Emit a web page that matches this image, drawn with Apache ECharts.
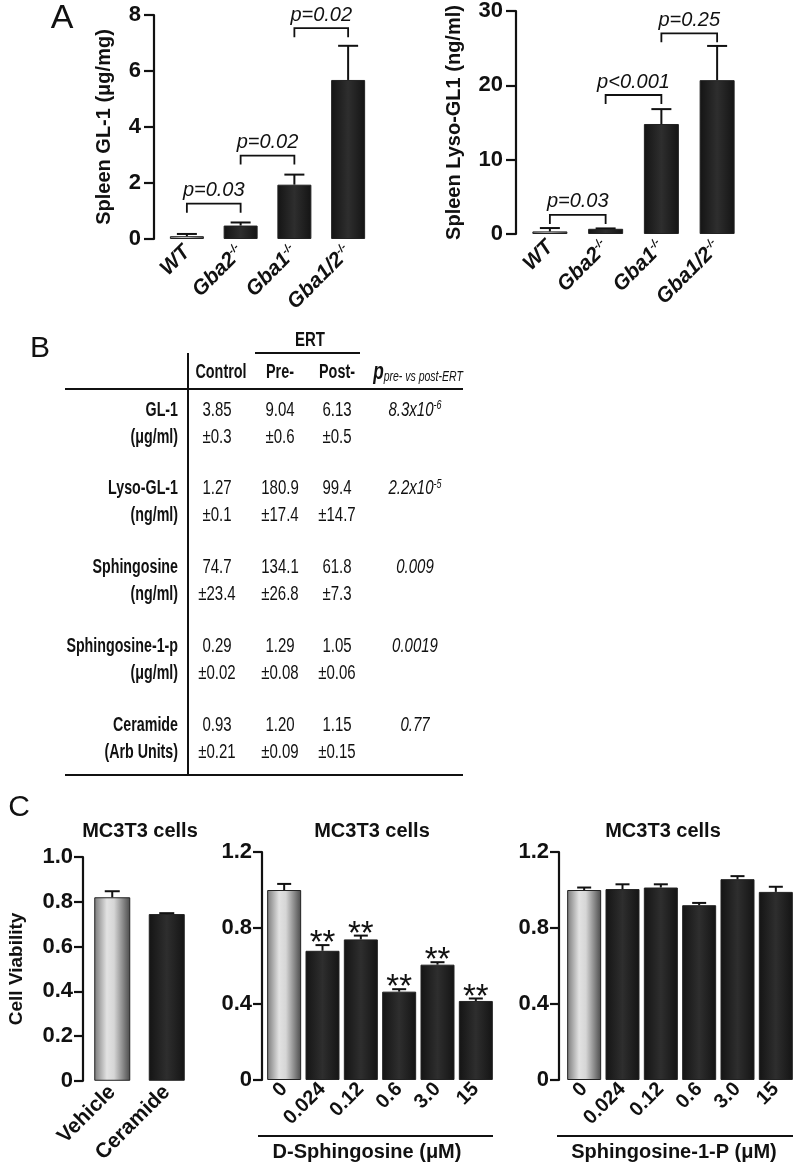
<!DOCTYPE html>
<html><head><meta charset="utf-8">
<script src="https://cdn.jsdelivr.net/npm/echarts@6/dist/echarts.min.js"></script>
<style>html,body{margin:0;padding:0;background:#fff}#c{width:797px;height:1166px}</style>
</head><body><div id="c"></div>
<script>
// ---------- Panel A data ----------
const genotypes = ['WT', 'Gba2', 'Gba1', 'Gba1/2'];
const genotypeSup = ['', '-/-', '-/-', '-/-'];
const gl1Mean = [0.1, 0.48, 1.94, 5.68];
const gl1Err = [0.08, 0.11, 0.36, 1.22];
const gl1Brackets = [
  { from: 0, to: 1, y: 1.26, label: 'p=0.03' },
  { from: 1, to: 2, y: 2.98, label: 'p=0.02' },
  { from: 2, to: 3, y: 7.53, label: 'p=0.02' }
];
const lysoMean = [0.35, 0.7, 14.8, 20.7];
const lysoErr = [0.45, 0.05, 2.0, 4.6];
const lysoBrackets = [
  { from: 0, to: 1, y: 2.57, label: 'p=0.03' },
  { from: 1, to: 2, y: 18.7, label: 'p<0.001' },
  { from: 2, to: 3, y: 27.0, label: 'p=0.25' }
];
const gl1Ticks = [0, 8, 2];
const lysoTicks = [0, 30, 10];

// ---------- Panel B data ----------
const tableHeaders = ['Control', 'Pre-', 'Post-'];
const tableRows = ['GL-1', 'Lyso-GL-1', 'Sphingosine', 'Sphingosine-1-p', 'Ceramide'];
const tableUnits = ['(μg/ml)', '(ng/ml)', '(ng/ml)', '(μg/ml)', '(Arb Units)'];
const controlMean = ['3.85', '1.27', '74.7', '0.29', '0.93'];
const controlSD = ['±0.3', '±0.1', '±23.4', '±0.02', '±0.21'];
const preMean = ['9.04', '180.9', '134.1', '1.29', '1.20'];
const preSD = ['±0.6', '±17.4', '±26.8', '±0.08', '±0.09'];
const postMean = ['6.13', '99.4', '61.8', '1.05', '1.15'];
const postSD = ['±0.5', '±14.7', '±7.3', '±0.06', '±0.15'];
const pBase = ['8.3x10', '2.2x10', '0.009', '0.0019', '0.77'];
const pExp = ['-6', '-5', '', '', ''];

// ---------- Panel C data ----------
const treatCats = ['Vehicle', 'Ceramide'];
const treatMean = [0.82, 0.745];
const treatErr = [0.027, 0.004];
const doseCats = ['0', '0.024', '0.12', '0.6', '3.0', '15'];
const sphMean = [1.0, 0.68, 0.74, 0.465, 0.607, 0.416];
const sphErr = [0.032, 0.03, 0.02, 0.013, 0.013, 0.013];
const sphStars = ['', '**', '**', '**', '**', '**'];
const s1pMean = [1.0, 1.005, 1.013, 0.92, 1.057, 0.99];
const s1pErr = [0.013, 0.025, 0.017, 0.012, 0.016, 0.027];
const treatTicks = [0, 1.0, 0.2];
const doseTicks = [0, 1.2, 0.4];

// ---------- styling helpers ----------
const FONT = '"Liberation Sans", Arial, Helvetica, sans-serif';
const INK = '#111';
const NX = 0.75; // horizontal squeeze for the condensed table typeface

function grayGrad() {
  return { type: 'linear', x: 0, y: 0, x2: 1, y2: 0, colorStops: [
    { offset: 0, color: '#7a7a7a' }, { offset: 0.35, color: '#e2e2e2' },
    { offset: 0.55, color: '#d6d6d6' }, { offset: 1, color: '#4a4a4a' }] };
}
function darkGrad() {
  return { type: 'linear', x: 0, y: 0, x2: 1, y2: 0, colorStops: [
    { offset: 0, color: '#141414' }, { offset: 0.5, color: '#2e2e2e' }, { offset: 1, color: '#141414' }] };
}

function barSeries(g, means, w) {
  return {
    type: 'bar', xAxisIndex: g, yAxisIndex: g, barWidth: w, z: 2,
    data: means.map((m, i) => ({ value: m, itemStyle: { color: i === 0 ? grayGrad() : darkGrad() } })),
    itemStyle: { borderColor: '#222', borderWidth: 1 }
  };
}

function errorSeries(g, means, errs, capW, lw, stars) {
  return {
    type: 'custom', xAxisIndex: g, yAxisIndex: g, z: 5, clip: false,
    data: means.map((m, i) => [i, m]),
    encode: { x: 0, y: 1 },
    renderItem(params, api) {
      const i = params.dataIndex;
      const m = api.value(1);
      const p0 = api.coord([i, m]);
      const p1 = api.coord([i, m + errs[i]]);
      const ch = [
        { type: 'line', shape: { x1: p0[0], y1: p0[1], x2: p1[0], y2: p1[1] }, style: { stroke: INK, lineWidth: lw } },
        { type: 'line', shape: { x1: p1[0] - capW / 2, y1: p1[1], x2: p1[0] + capW / 2, y2: p1[1] }, style: { stroke: INK, lineWidth: lw } }
      ];
      if (stars && stars[i]) {
        ch.push({ type: 'text', style: { text: stars[i], x: p1[0], y: p1[1] - 1,
          textAlign: 'center', align: 'center', textVerticalAlign: 'middle', verticalAlign: 'middle',
          font: '33px ' + FONT, fill: INK } });
      }
      return { type: 'group', children: ch };
    }
  };
}

function bracketSeries(g, brackets) {
  return {
    type: 'custom', xAxisIndex: g, yAxisIndex: g, z: 6, clip: false,
    data: brackets.map(b => [b.from, b.y]),
    encode: { x: 0, y: 1 },
    renderItem(params, api) {
      const b = brackets[params.dataIndex];
      const a = api.coord([b.from, b.y]);
      const c = api.coord([b.to, b.y]);
      const leg = 9;
      return { type: 'group', children: [
        { type: 'polyline', shape: { points: [[a[0], a[1] + leg], [a[0], a[1]], [c[0], c[1]], [c[0], c[1] + leg]] },
          style: { stroke: INK, lineWidth: 1.8, fill: null } },
        { type: 'text', style: { text: b.label, x: (a[0] + c[0]) / 2, y: a[1] - 3,
          textAlign: 'center', align: 'center', textVerticalAlign: 'bottom', verticalAlign: 'bottom',
          font: 'italic 20px ' + FONT, fill: INK } }
      ] };
    }
  };
}

function yAxisOpt(g, ticks, o) {
  return {
    type: 'value', gridIndex: g, min: ticks[0], max: ticks[1], interval: ticks[2], offset: o.offset || 0,
    axisLine: { show: true, lineStyle: { color: INK, width: 2.2 } },
    axisTick: { show: true, length: o.tickLen, lineStyle: { color: INK, width: 2.2 } },
    splitLine: { show: false },
    axisLabel: { color: INK, fontWeight: 'bold', fontSize: o.fs, fontFamily: FONT, margin: o.margin, formatter: o.fmt },
    name: o.name || '', nameLocation: 'middle', nameGap: o.nameGap || 0,
    nameTextStyle: { color: INK, fontWeight: 'bold', fontSize: o.nameSize || 18, fontFamily: FONT }
  };
}

function xAxisOpt(g, cats, o) {
  return {
    type: 'category', gridIndex: g, data: cats,
    axisLine: { show: false }, axisTick: { show: false },
    axisLabel: Object.assign({ interval: 0, rotate: 45, color: INK, fontWeight: 'bold', fontSize: o.fs,
      fontFamily: FONT, margin: o.margin }, o.extra || {})
  };
}

const genoRich = {
  b: { fontWeight: 'bold', fontStyle: 'italic', fontSize: 21, fontFamily: FONT, color: INK },
  s: { fontWeight: 'bold', fontStyle: 'italic', fontSize: 11, fontFamily: FONT, color: INK, verticalAlign: 'top', lineHeight: 12 }
};
const genoFmt = (v, idx) => genotypeSup[idx] ? '{b|' + v + '}{s|' + genotypeSup[idx] + '}' : '{b|' + v + '}';

const fmtInt = v => String(v);
const fmt1 = v => (v === 0 ? '0' : v.toFixed(1));

// ---------- graphic (table, titles, letters) ----------
const G = [];
function txt(x, y, text, font, align, valign, sx) {
  G.push({ type: 'text', x: x, y: y, scaleX: sx || 1, silent: true,
    style: { text: text, font: font, fill: INK, textAlign: align, align: align,
      textVerticalAlign: valign, verticalAlign: valign } });
}
function richTxt(x, y, text, rich, sx) {
  G.push({ type: 'text', x: x, y: y, scaleX: sx || 1, silent: true,
    style: { text: text, rich: rich, fill: INK, textAlign: 'center', align: 'center',
      textVerticalAlign: 'middle', verticalAlign: 'middle' } });
}
function ln(x1, y1, x2, y2, w) {
  G.push({ type: 'line', silent: true, shape: { x1, y1, x2, y2 }, style: { stroke: INK, lineWidth: w || 2 } });
}
// panel letters
txt(62, 19, 'A', '34px ' + FONT, 'center', 'middle');
txt(40, 349, 'B', '30px ' + FONT, 'center', 'middle');
txt(19, 808, 'C', '30px ' + FONT, 'center', 'middle');

// table B
const colX = [221, 280, 337];
const valX = [217, 280, 337];
const pColX = 415;
const rowY0 = 410, rowStep = 78.8, unitDy = 27;
const TB = 'bold 20px ' + FONT, TR = '20px ' + FONT;
txt(310, 340, 'ERT', TB, 'center', 'middle', NX);
ln(255, 353, 360, 353, 2);
ln(188, 353, 188, 775, 2);
ln(65, 389, 463, 389, 2.2);
ln(65, 775, 463, 775, 2.2);
tableHeaders.forEach((h, j) => txt(colX[j], 372, h, TB, 'center', 'middle', NX * 0.96));
richTxt(418, 372, '{p|p}{s|pre- vs post-ERT}', {
  p: { fontSize: 23, fontWeight: 'bold', fontStyle: 'italic', fontFamily: FONT, fill: INK, verticalAlign: 'bottom', lineHeight: 24 },
  s: { fontSize: 14, fontStyle: 'italic', fontFamily: FONT, fill: INK, verticalAlign: 'bottom', lineHeight: 20 }
}, NX);
const colMeans = [controlMean, preMean, postMean];
const colSDs = [controlSD, preSD, postSD];
tableRows.forEach((r, k) => {
  const y1 = rowY0 + k * rowStep, y2 = y1 + unitDy;
  txt(178, y1, r, TB, 'right', 'middle', NX * 0.95);
  txt(178, y2, tableUnits[k], TB, 'right', 'middle', NX * 0.95);
  for (let j = 0; j < 3; j++) {
    txt(valX[j], y1, colMeans[j][k], TR, 'center', 'middle', NX);
    txt(valX[j], y2, colSDs[j][k], TR, 'center', 'middle', NX);
  }
  richTxt(pColX, y1, '{i|' + pBase[k] + '}' + (pExp[k] ? '{e|' + pExp[k] + '}' : ''), {
    i: { fontSize: 20, fontStyle: 'italic', fontFamily: FONT, fill: INK, lineHeight: 20, verticalAlign: 'bottom' },
    e: { fontSize: 12, fontStyle: 'italic', fontFamily: FONT, fill: INK, lineHeight: 12, verticalAlign: 'top' }
  }, NX);
});

// panel C titles & group labels
txt(140, 831, 'MC3T3 cells', 'bold 20px ' + FONT, 'center', 'middle');
txt(372, 831, 'MC3T3 cells', 'bold 20px ' + FONT, 'center', 'middle');
txt(663, 831, 'MC3T3 cells', 'bold 20px ' + FONT, 'center', 'middle');
ln(258, 1136, 493, 1136, 2);
ln(557, 1136, 793, 1136, 2);
txt(367, 1152, 'D-Sphingosine (μM)', 'bold 20px ' + FONT, 'center', 'middle');
txt(674, 1152, 'Sphingosine-1-P (μM)', 'bold 20px ' + FONT, 'center', 'middle');

// ---------- chart ----------
const chart = echarts.init(document.getElementById('c'), null, { renderer: 'canvas' });
chart.setOption({
  animation: false,
  backgroundColor: '#fff',
  grid: [
    { left: 160, top: 15, width: 215, height: 224 },
    { left: 522, top: 8, width: 223, height: 226 },
    { left: 85, top: 857, width: 109, height: 225 },
    { left: 265, top: 852, width: 230, height: 228 },
    { left: 565, top: 852, width: 230, height: 228 }
  ],
  xAxis: [
    xAxisOpt(0, genotypes, { fs: 21, margin: 10, extra: { formatter: genoFmt, rich: genoRich } }),
    xAxisOpt(1, genotypes, { fs: 21, margin: 10, extra: { formatter: genoFmt, rich: genoRich } }),
    xAxisOpt(2, treatCats, { fs: 21, margin: 8 }),
    xAxisOpt(3, doseCats, { fs: 20, margin: 6 }),
    xAxisOpt(4, doseCats, { fs: 20, margin: 6 })
  ],
  yAxis: [
    yAxisOpt(0, gl1Ticks, { offset: 6, tickLen: 10, fs: 22, margin: 13, fmt: fmtInt,
      name: 'Spleen GL-1 (μg/mg)', nameGap: 40, nameSize: 20 }),
    yAxisOpt(1, lysoTicks, { offset: 6, tickLen: 10, fs: 22, margin: 13, fmt: fmtInt,
      name: 'Spleen Lyso-GL1 (ng/ml)', nameGap: 52, nameSize: 20 }),
    yAxisOpt(2, treatTicks, { offset: 2, tickLen: 9, fs: 22, margin: 10, fmt: fmt1,
      name: 'Cell Viability', nameGap: 57, nameSize: 19 }),
    yAxisOpt(3, doseTicks, { offset: 3, tickLen: 9, fs: 22, margin: 10, fmt: fmt1 }),
    yAxisOpt(4, doseTicks, { offset: 6, tickLen: 9, fs: 22, margin: 10, fmt: fmt1 })
  ],
  series: [
    barSeries(0, gl1Mean, 34), errorSeries(0, gl1Mean, gl1Err, 20, 2), bracketSeries(0, gl1Brackets),
    barSeries(1, lysoMean, 35), errorSeries(1, lysoMean, lysoErr, 20, 2), bracketSeries(1, lysoBrackets),
    barSeries(2, treatMean, 36), errorSeries(2, treatMean, treatErr, 15, 2),
    barSeries(3, sphMean, 34), errorSeries(3, sphMean, sphErr, 14, 2, sphStars),
    barSeries(4, s1pMean, 34), errorSeries(4, s1pMean, s1pErr, 14, 2)
  ],
  graphic: { elements: G }
});
</script>
</body></html>
